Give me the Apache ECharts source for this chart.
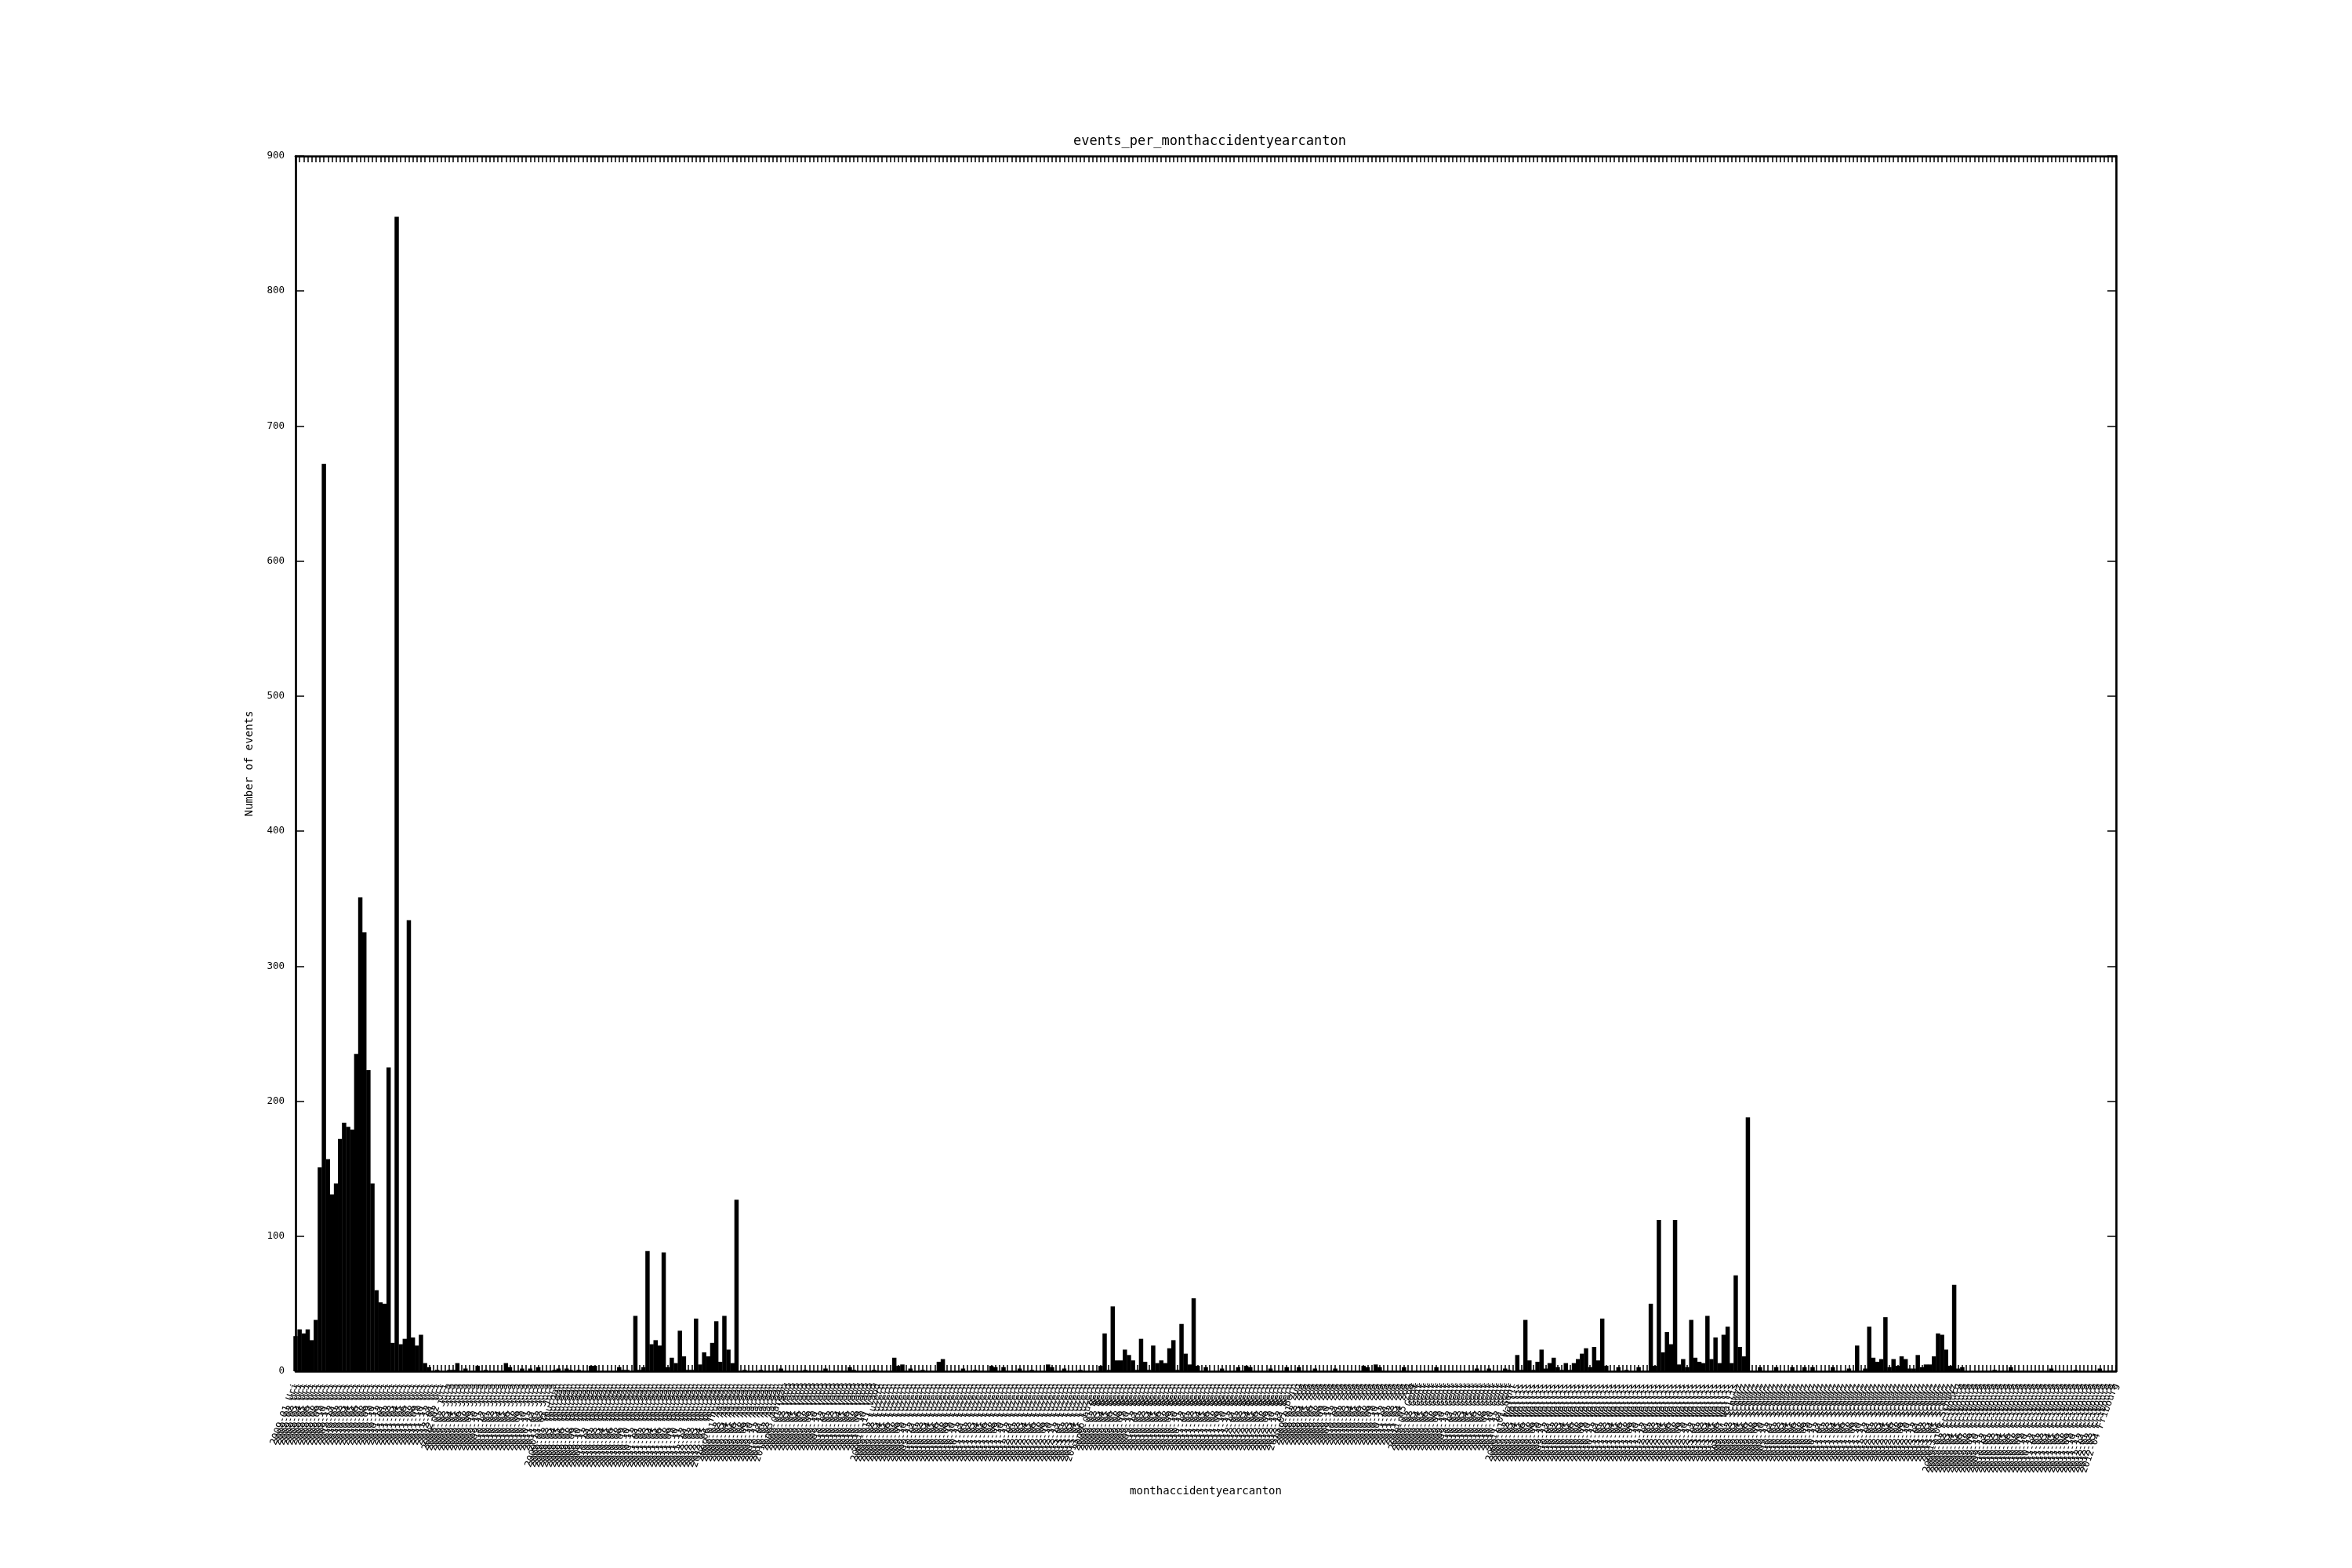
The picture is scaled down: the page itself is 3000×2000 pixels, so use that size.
<!DOCTYPE html>
<html>
<head>
<meta charset="utf-8">
<script src="https://cdn.jsdelivr.net/npm/echarts@6/dist/echarts.min.js"></script>
<style>
html,body{margin:0;padding:0;background:#fff;}
#chart{width:3000px;height:2000px;}
</style>
</head>
<body>
<div id="chart"></div>
<script>
// ---- texts ----
const titleText = 'events_per_monthaccidentyearcanton';
const xAxisName = 'monthaccidentyearcanton';
const yAxisName = 'Number of events';

// ---- y axis ticks ----
const yMin = 0;
const yMax = 900;
const yStep = 100;

// ---- category labels (illegible in the reference; reconstructed pattern) ----
const cantons = ['Uri', 'Jura', 'Thurgau', 'Aargau', 'Vaud', 'Luzern', 'Bern', 'Zug', 'Genf', 'Wallis', 'Schwyz', 'Fribourg'];
const groupSizes = [38, 27, 42, 15, 23, 54, 49, 29, 25, 55, 54, 40];
const startYear = 2009;

// ---- series values (one per category, 451 categories) ----
const values = [
  26, 31, 28, 31, 23, 38, 151, 672, 157, 131,   // 0
  139, 172, 184, 181, 179, 235, 351, 325, 223, 139, // 10
  60, 51, 50, 225, 21, 855, 20, 24, 334, 25,   // 20
  19, 27, 6, 3, 0, 1, 0, 0, 1, 1,              // 30
  6, 0, 2, 0, 0, 4, 0, 1, 0, 0,                // 40
  0, 0, 6, 3, 0, 0, 2, 0, 2, 0,                // 50
  3, 0, 0, 0, 1, 2, 0, 2, 1, 0,                // 60
  1, 0, 0, 4, 4, 0, 0, 0, 0, 0,                // 70
  3, 1, 1, 0, 41, 1, 3, 89, 20, 23,            // 80
  19, 88, 3, 10, 6, 30, 11, 1, 1, 39,          // 90
  5, 14, 11, 21, 37, 7, 41, 16, 6, 127,        // 100
  0, 1, 0, 0, 0, 1, 0, 0, 0, 0,                // 110
  2, 0, 0, 0, 0, 0, 1, 0, 0, 0,                // 120
  0, 2, 0, 0, 0, 0, 0, 3, 1, 0,                // 130
  0, 0, 0, 1, 0, 0, 0, 0, 10, 4,               // 140
  5, 0, 2, 0, 0, 1, 0, 0, 0, 7,                // 150
  9, 0, 0, 0, 0, 2, 0, 0, 1, 0,                // 160
  0, 0, 4, 3, 0, 3, 0, 0, 0, 2,                // 170
  0, 0, 1, 0, 0, 0, 5, 3, 0, 0,                // 180
  2, 0, 0, 0, 1, 0, 0, 0, 0, 4,                // 190
  28, 1, 48, 8, 8, 16, 12, 8, 1, 24,           // 200
  7, 1, 19, 6, 8, 6, 17, 23, 1, 35,            // 210
  13, 5, 54, 4, 0, 3, 0, 0, 0, 2,              // 220
  0, 0, 0, 3, 0, 4, 3, 0, 0, 0,                // 230
  0, 2, 0, 0, 0, 3, 0, 0, 3, 0,                // 240
  0, 0, 2, 0, 0, 0, 0, 2, 0, 0,                // 250
  0, 0, 0, 0, 4, 3, 0, 5, 3, 0,                // 260
  0, 0, 0, 0, 3, 0, 0, 0, 0, 0,                // 270
  0, 0, 3, 0, 0, 0, 0, 0, 0, 0,                // 280
  0, 0, 2, 0, 0, 2, 0, 0, 0, 2,                // 290
  1, 0, 12, 1, 38, 8, 1, 7, 16, 2,             // 300
  6, 10, 3, 1, 6, 1, 6, 9, 13, 17,             // 310
  3, 18, 8, 39, 4, 0, 0, 3, 0, 1,              // 320
  0, 0, 3, 0, 0, 50, 4, 112, 14, 29,           // 330
  20, 112, 5, 9, 3, 38, 10, 7, 6, 41,          // 340
  9, 25, 6, 27, 33, 6, 71, 18, 11, 188,        // 350
  0, 0, 3, 0, 0, 0, 3, 0, 0, 0,                // 360
  3, 0, 0, 3, 0, 3, 0, 0, 0, 0,                // 370
  3, 0, 0, 0, 2, 0, 19, 0, 2, 33,              // 380
  10, 7, 9, 40, 3, 9, 4, 11, 9, 2,             // 390
  2, 12, 3, 5, 5, 11, 28, 27, 16, 4,           // 400
  64, 2, 3, 0, 0, 0, 0, 0, 0, 0,               // 410
  1, 0, 0, 0, 3, 0, 0, 0, 0, 0,                // 420
  0, 0, 0, 0, 2, 0, 0, 0, 0, 0,                // 430
  1, 0, 0, 0, 0, 0, 2, 0, 0, 0,                // 440
  0                                            // 450
];

// build category labels from the small lists above
const categories = [];
cantons.forEach(function (c, g) {
  for (let k = 0; k < groupSizes[g]; k++) {
    const yr = startYear + Math.floor(k / 12);
    const mo = String(k % 12 + 1).padStart(2, '0');
    categories.push(yr + '-' + mo + ' ' + c);
  }
});

const mono = 'DejaVu Sans Mono';
const black = '#000000';
const frameW = 2.7;
const tickStyle = {color: black, width: 1.5};

const chart = echarts.init(document.getElementById('chart'), null, {renderer: 'canvas'});
const option = {
  animation: false,
  backgroundColor: '#ffffff',
  title: {
    text: titleText,
    left: 1538,
    top: 167,
    textAlign: 'center',
    textStyle: {fontFamily: mono, fontSize: 17, fontWeight: 'normal', color: black}
  },
  grid: {left: 377, top: 199, width: 2322, height: 1550, containLabel: false},
  xAxis: [
    {
      type: 'category',
      data: categories,
      boundaryGap: false,
      position: 'bottom',
      name: xAxisName,
      nameLocation: 'middle',
      nameGap: 146,
      nameTextStyle: {fontFamily: mono, fontSize: 14, color: black},
      axisLine: {show: true, lineStyle: {color: black, width: frameW}},
      axisTick: {show: true, inside: true, length: 8, interval: 0, lineStyle: tickStyle},
      axisLabel: {show: true, interval: 0, rotate: 70, margin: 16, fontFamily: mono, fontSize: 12.5, color: black},
      splitLine: {show: false}
    },
    {
      // top frame edge, same categories, ticks only
      type: 'category',
      data: categories,
      boundaryGap: false,
      position: 'top',
      axisLine: {show: true, onZero: false, lineStyle: {color: black, width: frameW}},
      axisTick: {show: true, inside: true, length: 8, interval: 0, lineStyle: tickStyle},
      axisLabel: {show: true, interval: 0, formatter: function () { return ''; }},
      splitLine: {show: false}
    }
  ],
  yAxis: [
    {
      type: 'value',
      min: yMin,
      max: yMax,
      interval: yStep,
      position: 'left',
      name: yAxisName,
      nameLocation: 'middle',
      nameGap: 52,
      nameTextStyle: {fontFamily: mono, fontSize: 14, color: black},
      axisLine: {show: true, lineStyle: {color: black, width: frameW}},
      axisTick: {show: true, inside: true, length: 11, lineStyle: tickStyle},
      axisLabel: {show: true, margin: 14, fontFamily: mono, fontSize: 12.5, color: black},
      splitLine: {show: false}
    },
    {
      type: 'value',
      min: yMin,
      max: yMax,
      interval: yStep,
      position: 'right',
      axisLine: {show: true, onZero: false, lineStyle: {color: black, width: frameW}},
      axisTick: {show: true, inside: true, length: 11, lineStyle: tickStyle},
      axisLabel: {show: false},
      splitLine: {show: false}
    }
  ],
  series: [
    {
      type: 'bar',
      data: values,
      xAxisIndex: 0,
      yAxisIndex: 0,
      barWidth: 5.5,
      clip: true,
      itemStyle: {color: black, borderWidth: 0}
    },
    {
      // empty companion series bound to the top/right frame axes
      type: 'bar',
      data: [],
      xAxisIndex: 1,
      yAxisIndex: 1,
      silent: true
    }
  ]
};
chart.setOption(option);
</script>
</body>
</html>
